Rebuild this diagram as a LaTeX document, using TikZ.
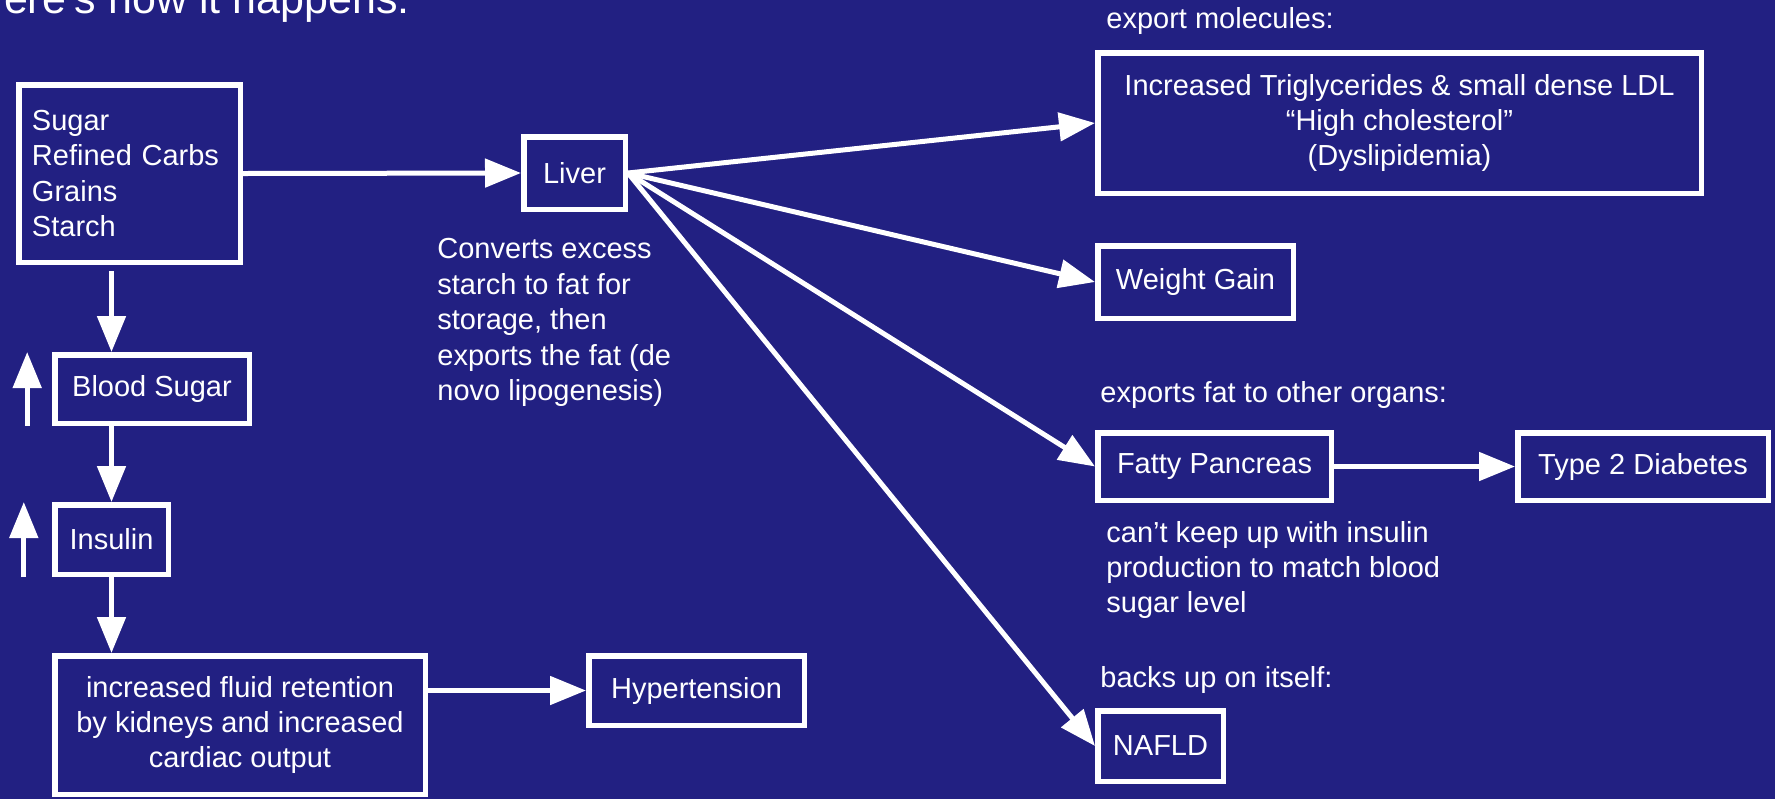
\documentclass[tikz,border=0pt]{standalone}
\usepackage{fontspec}
\setmainfont{Liberation Sans}
\usetikzlibrary{arrows.meta}
\definecolor{bg}{RGB}{34,32,130}
\begin{document}
\begin{tikzpicture}[x=0.5pt,y=-0.5pt,
  every node/.style={text=white, font=\fontsize{14.5}{17.7}\selectfont},
  box/.style={draw=white, line width=2.75pt, inner sep=0pt, align=center},
  lbl/.style={inner sep=0pt, align=left, anchor=west},
  arr/.style={draw=white, line width=2.5pt, -{Triangle[length=18pt,width=14pt]}},
]
\fill[bg] (0,0) rectangle (1775,799);
\useasboundingbox (0,0) rectangle (1775,799);

\node[box, minimum width=110.75pt, minimum height=88.75pt, text width=97.5pt, inner xsep=6.6pt, align=left] (sugar) at (129.5,173.5) {Sugar\\Refined Carbs\\Grains\\Starch};
\node[box, minimum width=50.75pt, minimum height=36.25pt] (liver) at (574.5,173) {Liver};
\node[box, minimum width=97.25pt, minimum height=34.25pt] (blood) at (152,389) {Blood Sugar};
\node[box, minimum width=56.75pt, minimum height=34.75pt] (insulin) at (111.5,539.5) {Insulin};
\node[box, minimum width=185.25pt, minimum height=69.25pt] (fluid) at (240,725) {increased fluid retention\\by kidneys and increased\\cardiac output};
\node[box, minimum width=107.75pt, minimum height=34.75pt] (hyper) at (696.5,690.5) {Hypertension};
\node[box, minimum width=301.75pt, minimum height=70.25pt] (trig) at (1399.5,123) {Increased Triglycerides \& small dense LDL\\“High cholesterol”\\(Dyslipidemia)};
\node[box, minimum width=97.75pt, minimum height=36.25pt] (weight) at (1195.5,282) {Weight Gain};
\node[box, minimum width=116.75pt, minimum height=33.75pt] (fatty) at (1214.5,466.5) {Fatty Pancreas};
\node[box, minimum width=125.25pt, minimum height=33.75pt] (type2) at (1643,466.5) {Type 2 Diabetes};
\node[box, minimum width=62.75pt, minimum height=35.25pt] (nafld) at (1160.5,746) {NAFLD};

\node[inner sep=0pt, anchor=base east, font=\fontsize{21.5}{26}\selectfont] (title) at (410,13) {Here’s how it happens:};
\node[lbl] (liverdesc) at (437,322.5) {Converts excess\\starch to fat for\\storage, then\\exports the fat (de\\novo lipogenesis)};
\node[lbl] (exportmol) at (1106,21) {export molecules:};
\node[lbl] (exportfat) at (1100,395) {exports fat to other organs:};
\node[lbl] (cantkeep) at (1106,570) {can’t keep up with insulin\\production to match blood\\sugar level};
\node[lbl] (backsup) at (1100,680) {backs up on itself:};

\draw[arr] (sugar.east) -- (liver.west);
\draw[arr, shorten <=3pt] (sugar.south -| insulin.north) -- (blood.north -| insulin.north);
\draw[arr] (blood.south -| insulin.north) -- (insulin.north);
\draw[arr] (insulin.south) -- (insulin.south |- fluid.north);
\draw[arr] (fluid.east |- hyper.west) -- (hyper.west);
\draw[arr] ([xshift=-12.4pt]blood.south west) -- ([xshift=-12.4pt]blood.north west);
\draw[arr] ([xshift=-14.1pt]insulin.south west) -- ([xshift=-14.1pt]insulin.north west);
\draw[arr] (liver.east) -- (trig.west);
\draw[arr] (liver.east) -- (weight.west);
\draw[arr] (liver.east) -- (fatty.west);
\draw[arr] (liver.east) -- (nafld.west);
\draw[arr] (fatty.east) -- (type2.west);
\end{tikzpicture}
\end{document}
